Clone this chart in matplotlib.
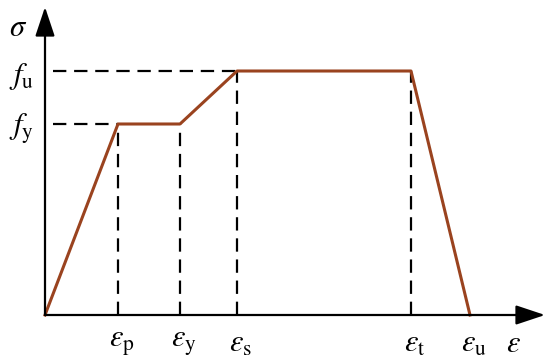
import numpy as np
import matplotlib.pyplot as plt

plt.rcParams['mathtext.fontset'] = 'stix'

# strain points (eps_p, eps_y, eps_s, eps_t, eps_u) and stress levels
strain = [0, 73, 135, 192, 366, 425]
stress = [0, 191, 191, 244, 244, 0]
fy = 191
fu = 244
x_labels = [r'$\varepsilon_{\mathrm{p}}$', r'$\varepsilon_{\mathrm{y}}$',
            r'$\varepsilon_{\mathrm{s}}$', r'$\varepsilon_{\mathrm{t}}$',
            r'$\varepsilon_{\mathrm{u}}$']
y_labels = [r'$f_{\mathrm{y}}$', r'$f_{\mathrm{u}}$']

fig = plt.figure(figsize=(5.5, 3.62), dpi=100)
ax = fig.add_axes([0, 0, 1, 1])
ax.set_xlim(-45, 505)
ax.set_ylim(-47, 315)
ax.axis('off')

# axes with arrows
arrow = dict(arrowstyle='-|>,head_length=1.5,head_width=0.5', mutation_scale=12,
             lw=1.6, color='k', shrinkA=0, shrinkB=0)
ax.annotate('', xy=(500, 0), xytext=(0, 0), arrowprops=arrow)
ax.annotate('', xy=(0, 308), xytext=(0, 0), arrowprops=arrow)

# dashed guide lines
dash = dict(color='k', lw=1.6, dashes=(6, 3.5))
for x, y in zip(strain[1:5], stress[1:5]):
    ax.plot([x, x], [0, y], **dash)
ax.plot([8, strain[1]], [fy, fy], **dash)
ax.plot([8, strain[3]], [fu, fu], **dash)

# stress-strain curve
ax.plot(strain, stress, color='#9a431f', lw=2.2, solid_joinstyle='round')

# labels
for x, lab in zip(strain[1:], x_labels):
    ax.text(x + 4, -29, lab, fontsize=22, ha='center', va='center')
ax.text(468, -29, r'$\varepsilon$', fontsize=22, ha='center', va='center')
ax.text(-11, fy - 5, y_labels[0], fontsize=22, ha='right', va='center')
ax.text(-11, fu - 5, y_labels[1], fontsize=22, ha='right', va='center')
ax.text(-27, 288, r'$\sigma$', fontsize=22, ha='center', va='center')

fig.savefig('out.png', dpi=100)
